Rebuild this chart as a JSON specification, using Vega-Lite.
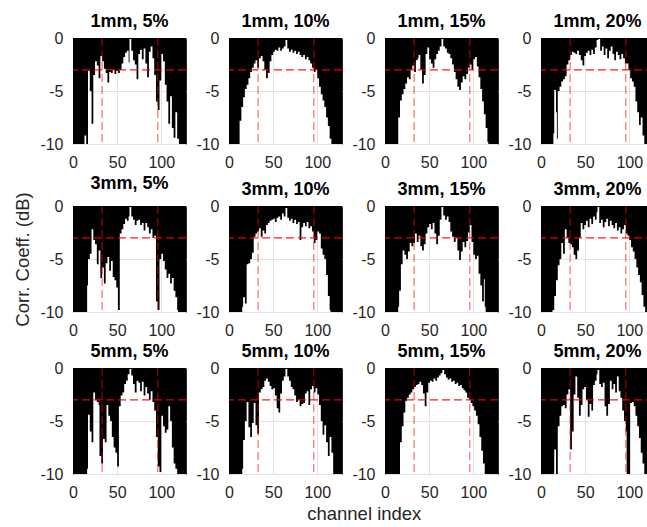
{
"$schema":"https://vega.github.io/schema/vega-lite/v6.json",
"padding":{"left":13,"top":12,"right":0,"bottom":0},
"background":"white",
"title":{"text":"channel index","orient":"bottom","anchor":"middle","fontSize":18.5,"fontWeight":"normal","color":"#262626","offset":4,"dx":30,"frame":"bounds"},
"datasets":{
"vr":[{"x":33},{"x":96}],
"hr":[{"y":-3}],
"d":[
{"p":"1mm, 5%","x":0,"v":-12},{"p":"1mm, 5%","x":13,"v":-9.2},{"p":"1mm, 5%","x":15,"v":-12},{"p":"1mm, 5%","x":17,"v":-3.1},{"p":"1mm, 5%","x":19,"v":-5},{"p":"1mm, 5%","x":21,"v":-8.1},{"p":"1mm, 5%","x":23,"v":-3.5},{"p":"1mm, 5%","x":25,"v":-2.2},{"p":"1mm, 5%","x":27,"v":-2.6},{"p":"1mm, 5%","x":29,"v":-3.8},{"p":"1mm, 5%","x":31,"v":-1.7},{"p":"1mm, 5%","x":33,"v":-2.2},{"p":"1mm, 5%","x":35,"v":-2.9},{"p":"1mm, 5%","x":37,"v":-3.3},{"p":"1mm, 5%","x":39,"v":-4.2},{"p":"1mm, 5%","x":41,"v":-3.2},{"p":"1mm, 5%","x":43,"v":-3.3},{"p":"1mm, 5%","x":45,"v":-3.0},{"p":"1mm, 5%","x":47,"v":-3.4},{"p":"1mm, 5%","x":49,"v":-3.1},{"p":"1mm, 5%","x":51,"v":-3.3},{"p":"1mm, 5%","x":53,"v":-3.0},{"p":"1mm, 5%","x":55,"v":-2.4},{"p":"1mm, 5%","x":57,"v":-1.8},{"p":"1mm, 5%","x":59,"v":-1.4},{"p":"1mm, 5%","x":61,"v":-1.2},{"p":"1mm, 5%","x":63,"v":-2.3},{"p":"1mm, 5%","x":64,"v":-0.1},{"p":"1mm, 5%","x":66,"v":-1.2},{"p":"1mm, 5%","x":68,"v":-2.1},{"p":"1mm, 5%","x":70,"v":-2.5},{"p":"1mm, 5%","x":72,"v":-3.9},{"p":"1mm, 5%","x":74,"v":-1.5},{"p":"1mm, 5%","x":76,"v":-1.1},{"p":"1mm, 5%","x":78,"v":-2.0},{"p":"1mm, 5%","x":80,"v":-1.0},{"p":"1mm, 5%","x":82,"v":-2.4},{"p":"1mm, 5%","x":84,"v":-3.7},{"p":"1mm, 5%","x":86,"v":-1.3},{"p":"1mm, 5%","x":88,"v":-0.8},{"p":"1mm, 5%","x":90,"v":-1.9},{"p":"1mm, 5%","x":92,"v":-3.5},{"p":"1mm, 5%","x":94,"v":-6.0},{"p":"1mm, 5%","x":96,"v":-6.8},{"p":"1mm, 5%","x":98,"v":-4.0},{"p":"1mm, 5%","x":100,"v":-1.5},{"p":"1mm, 5%","x":102,"v":-2.2},{"p":"1mm, 5%","x":104,"v":-4.4},{"p":"1mm, 5%","x":106,"v":-6.0},{"p":"1mm, 5%","x":108,"v":-8.1},{"p":"1mm, 5%","x":110,"v":-5.5},{"p":"1mm, 5%","x":112,"v":-8.5},{"p":"1mm, 5%","x":114,"v":-9.4},{"p":"1mm, 5%","x":116,"v":-7.0},{"p":"1mm, 5%","x":118,"v":-9.5},{"p":"1mm, 5%","x":120,"v":-12},{"p":"1mm, 5%","x":128,"v":-12},
{"p":"1mm, 10%","x":0,"v":-12},{"p":"1mm, 10%","x":12,"v":-7.8},{"p":"1mm, 10%","x":14,"v":-6.5},{"p":"1mm, 10%","x":16,"v":-5.6},{"p":"1mm, 10%","x":18,"v":-4.8},{"p":"1mm, 10%","x":20,"v":-4.4},{"p":"1mm, 10%","x":22,"v":-3.8},{"p":"1mm, 10%","x":24,"v":-3.2},{"p":"1mm, 10%","x":26,"v":-2.8},{"p":"1mm, 10%","x":28,"v":-2.4},{"p":"1mm, 10%","x":30,"v":-2.1},{"p":"1mm, 10%","x":32,"v":-2.8},{"p":"1mm, 10%","x":34,"v":-1.9},{"p":"1mm, 10%","x":36,"v":-1.7},{"p":"1mm, 10%","x":38,"v":-2.2},{"p":"1mm, 10%","x":40,"v":-3.0},{"p":"1mm, 10%","x":42,"v":-3.8},{"p":"1mm, 10%","x":44,"v":-3.3},{"p":"1mm, 10%","x":46,"v":-2.2},{"p":"1mm, 10%","x":48,"v":-1.6},{"p":"1mm, 10%","x":50,"v":-1.3},{"p":"1mm, 10%","x":52,"v":-1.1},{"p":"1mm, 10%","x":54,"v":-1.2},{"p":"1mm, 10%","x":56,"v":-0.9},{"p":"1mm, 10%","x":58,"v":-1.2},{"p":"1mm, 10%","x":60,"v":-1.0},{"p":"1mm, 10%","x":62,"v":-0.8},{"p":"1mm, 10%","x":64,"v":-0.2},{"p":"1mm, 10%","x":66,"v":-1.0},{"p":"1mm, 10%","x":68,"v":-1.3},{"p":"1mm, 10%","x":70,"v":-1.1},{"p":"1mm, 10%","x":72,"v":-1.4},{"p":"1mm, 10%","x":74,"v":-1.2},{"p":"1mm, 10%","x":76,"v":-1.5},{"p":"1mm, 10%","x":78,"v":-1.3},{"p":"1mm, 10%","x":80,"v":-1.6},{"p":"1mm, 10%","x":82,"v":-1.8},{"p":"1mm, 10%","x":84,"v":-1.6},{"p":"1mm, 10%","x":86,"v":-2.0},{"p":"1mm, 10%","x":88,"v":-1.8},{"p":"1mm, 10%","x":90,"v":-2.1},{"p":"1mm, 10%","x":92,"v":-2.4},{"p":"1mm, 10%","x":94,"v":-2.8},{"p":"1mm, 10%","x":96,"v":-3.2},{"p":"1mm, 10%","x":98,"v":-3.0},{"p":"1mm, 10%","x":100,"v":-3.8},{"p":"1mm, 10%","x":102,"v":-4.6},{"p":"1mm, 10%","x":104,"v":-5.3},{"p":"1mm, 10%","x":106,"v":-5.9},{"p":"1mm, 10%","x":108,"v":-6.5},{"p":"1mm, 10%","x":110,"v":-7.5},{"p":"1mm, 10%","x":112,"v":-8.3},{"p":"1mm, 10%","x":114,"v":-9.5},{"p":"1mm, 10%","x":116,"v":-12},{"p":"1mm, 10%","x":128,"v":-12},
{"p":"1mm, 15%","x":0,"v":-12},{"p":"1mm, 15%","x":15,"v":-7.5},{"p":"1mm, 15%","x":17,"v":-5.9},{"p":"1mm, 15%","x":19,"v":-5.3},{"p":"1mm, 15%","x":21,"v":-4.8},{"p":"1mm, 15%","x":23,"v":-4.3},{"p":"1mm, 15%","x":25,"v":-3.7},{"p":"1mm, 15%","x":27,"v":-3.9},{"p":"1mm, 15%","x":29,"v":-3.0},{"p":"1mm, 15%","x":31,"v":-2.6},{"p":"1mm, 15%","x":33,"v":-3.2},{"p":"1mm, 15%","x":35,"v":-2.1},{"p":"1mm, 15%","x":37,"v":-1.9},{"p":"1mm, 15%","x":38,"v":-1.6},{"p":"1mm, 15%","x":40,"v":-3.0},{"p":"1mm, 15%","x":42,"v":-4.3},{"p":"1mm, 15%","x":44,"v":-3.5},{"p":"1mm, 15%","x":46,"v":-1.5},{"p":"1mm, 15%","x":48,"v":-0.9},{"p":"1mm, 15%","x":50,"v":-2.0},{"p":"1mm, 15%","x":52,"v":-2.4},{"p":"1mm, 15%","x":54,"v":-2.8},{"p":"1mm, 15%","x":56,"v":-2.0},{"p":"1mm, 15%","x":58,"v":-1.5},{"p":"1mm, 15%","x":60,"v":-1.2},{"p":"1mm, 15%","x":62,"v":-0.8},{"p":"1mm, 15%","x":64,"v":-0.1},{"p":"1mm, 15%","x":66,"v":-0.8},{"p":"1mm, 15%","x":68,"v":-1.0},{"p":"1mm, 15%","x":70,"v":-1.4},{"p":"1mm, 15%","x":72,"v":-1.5},{"p":"1mm, 15%","x":74,"v":-1.9},{"p":"1mm, 15%","x":76,"v":-2.5},{"p":"1mm, 15%","x":78,"v":-3.2},{"p":"1mm, 15%","x":80,"v":-3.9},{"p":"1mm, 15%","x":82,"v":-4.6},{"p":"1mm, 15%","x":84,"v":-4.9},{"p":"1mm, 15%","x":86,"v":-4.2},{"p":"1mm, 15%","x":88,"v":-3.6},{"p":"1mm, 15%","x":90,"v":-3.9},{"p":"1mm, 15%","x":92,"v":-3.4},{"p":"1mm, 15%","x":94,"v":-2.8},{"p":"1mm, 15%","x":96,"v":-2.5},{"p":"1mm, 15%","x":98,"v":-3.0},{"p":"1mm, 15%","x":100,"v":-2.0},{"p":"1mm, 15%","x":102,"v":-1.8},{"p":"1mm, 15%","x":104,"v":-2.7},{"p":"1mm, 15%","x":106,"v":-3.7},{"p":"1mm, 15%","x":108,"v":-4.8},{"p":"1mm, 15%","x":110,"v":-6.0},{"p":"1mm, 15%","x":112,"v":-7.2},{"p":"1mm, 15%","x":114,"v":-8.5},{"p":"1mm, 15%","x":116,"v":-9.8},{"p":"1mm, 15%","x":117,"v":-12},{"p":"1mm, 15%","x":128,"v":-12},
{"p":"1mm, 20%","x":0,"v":-12},{"p":"1mm, 20%","x":14,"v":-9},{"p":"1mm, 20%","x":15,"v":-4.9},{"p":"1mm, 20%","x":17,"v":-7},{"p":"1mm, 20%","x":18,"v":-9.5},{"p":"1mm, 20%","x":19,"v":-5},{"p":"1mm, 20%","x":21,"v":-4.6},{"p":"1mm, 20%","x":23,"v":-4.1},{"p":"1mm, 20%","x":25,"v":-3.9},{"p":"1mm, 20%","x":27,"v":-3.6},{"p":"1mm, 20%","x":29,"v":-2.5},{"p":"1mm, 20%","x":31,"v":-2.1},{"p":"1mm, 20%","x":33,"v":-1.6},{"p":"1mm, 20%","x":35,"v":-1.3},{"p":"1mm, 20%","x":37,"v":-1.4},{"p":"1mm, 20%","x":39,"v":-1.5},{"p":"1mm, 20%","x":41,"v":-1.2},{"p":"1mm, 20%","x":43,"v":-1.6},{"p":"1mm, 20%","x":45,"v":-2.1},{"p":"1mm, 20%","x":47,"v":-2.6},{"p":"1mm, 20%","x":49,"v":-1.7},{"p":"1mm, 20%","x":51,"v":-1.4},{"p":"1mm, 20%","x":53,"v":-1.2},{"p":"1mm, 20%","x":55,"v":-1.6},{"p":"1mm, 20%","x":57,"v":-1.1},{"p":"1mm, 20%","x":59,"v":-1.5},{"p":"1mm, 20%","x":61,"v":-0.9},{"p":"1mm, 20%","x":63,"v":-0.2},{"p":"1mm, 20%","x":65,"v":-0.1},{"p":"1mm, 20%","x":67,"v":-1.2},{"p":"1mm, 20%","x":69,"v":-0.8},{"p":"1mm, 20%","x":71,"v":-1.6},{"p":"1mm, 20%","x":73,"v":-1.0},{"p":"1mm, 20%","x":75,"v":-1.9},{"p":"1mm, 20%","x":77,"v":-1.2},{"p":"1mm, 20%","x":79,"v":-0.8},{"p":"1mm, 20%","x":81,"v":-1.5},{"p":"1mm, 20%","x":83,"v":-2.1},{"p":"1mm, 20%","x":85,"v":-1.3},{"p":"1mm, 20%","x":87,"v":-1.6},{"p":"1mm, 20%","x":89,"v":-2.0},{"p":"1mm, 20%","x":91,"v":-1.5},{"p":"1mm, 20%","x":93,"v":-1.9},{"p":"1mm, 20%","x":95,"v":-2.4},{"p":"1mm, 20%","x":97,"v":-2.4},{"p":"1mm, 20%","x":99,"v":-3.0},{"p":"1mm, 20%","x":101,"v":-3.8},{"p":"1mm, 20%","x":103,"v":-4.1},{"p":"1mm, 20%","x":105,"v":-4.6},{"p":"1mm, 20%","x":107,"v":-6.0},{"p":"1mm, 20%","x":109,"v":-7.0},{"p":"1mm, 20%","x":111,"v":-8.2},{"p":"1mm, 20%","x":113,"v":-7.5},{"p":"1mm, 20%","x":115,"v":-9.2},{"p":"1mm, 20%","x":117,"v":-12},{"p":"1mm, 20%","x":128,"v":-12},
{"p":"3mm, 5%","x":0,"v":-12},{"p":"3mm, 5%","x":16,"v":-7.5},{"p":"3mm, 5%","x":17,"v":-5.0},{"p":"3mm, 5%","x":19,"v":-4.5},{"p":"3mm, 5%","x":21,"v":-2.2},{"p":"3mm, 5%","x":23,"v":-3.2},{"p":"3mm, 5%","x":25,"v":-3.6},{"p":"3mm, 5%","x":27,"v":-5.5},{"p":"3mm, 5%","x":29,"v":-4.2},{"p":"3mm, 5%","x":31,"v":-6.8},{"p":"3mm, 5%","x":33,"v":-5.8},{"p":"3mm, 5%","x":35,"v":-7.3},{"p":"3mm, 5%","x":37,"v":-5.4},{"p":"3mm, 5%","x":39,"v":-4.8},{"p":"3mm, 5%","x":41,"v":-6.1},{"p":"3mm, 5%","x":43,"v":-5.2},{"p":"3mm, 5%","x":45,"v":-6.7},{"p":"3mm, 5%","x":47,"v":-7.0},{"p":"3mm, 5%","x":49,"v":-7.7},{"p":"3mm, 5%","x":51,"v":-9.8},{"p":"3mm, 5%","x":53,"v":-2.6},{"p":"3mm, 5%","x":55,"v":-2.2},{"p":"3mm, 5%","x":57,"v":-1.7},{"p":"3mm, 5%","x":59,"v":-1.2},{"p":"3mm, 5%","x":61,"v":-1.4},{"p":"3mm, 5%","x":63,"v":-1.0},{"p":"3mm, 5%","x":64,"v":-0.1},{"p":"3mm, 5%","x":66,"v":-1.0},{"p":"3mm, 5%","x":68,"v":-1.3},{"p":"3mm, 5%","x":70,"v":-1.8},{"p":"3mm, 5%","x":72,"v":-1.4},{"p":"3mm, 5%","x":74,"v":-1.3},{"p":"3mm, 5%","x":76,"v":-1.8},{"p":"3mm, 5%","x":78,"v":-1.6},{"p":"3mm, 5%","x":80,"v":-2.3},{"p":"3mm, 5%","x":82,"v":-1.6},{"p":"3mm, 5%","x":84,"v":-2.0},{"p":"3mm, 5%","x":86,"v":-2.6},{"p":"3mm, 5%","x":88,"v":-2.2},{"p":"3mm, 5%","x":90,"v":-3.0},{"p":"3mm, 5%","x":92,"v":-2.8},{"p":"3mm, 5%","x":94,"v":-9.0},{"p":"3mm, 5%","x":96,"v":-9.8},{"p":"3mm, 5%","x":98,"v":-5.0},{"p":"3mm, 5%","x":100,"v":-4.5},{"p":"3mm, 5%","x":102,"v":-5.2},{"p":"3mm, 5%","x":104,"v":-6.0},{"p":"3mm, 5%","x":106,"v":-6.8},{"p":"3mm, 5%","x":108,"v":-6.4},{"p":"3mm, 5%","x":110,"v":-7.3},{"p":"3mm, 5%","x":112,"v":-6.8},{"p":"3mm, 5%","x":114,"v":-8.0},{"p":"3mm, 5%","x":116,"v":-8.6},{"p":"3mm, 5%","x":118,"v":-9.8},{"p":"3mm, 5%","x":119,"v":-12},{"p":"3mm, 5%","x":128,"v":-12},
{"p":"3mm, 10%","x":0,"v":-12},{"p":"3mm, 10%","x":15,"v":-9.5},{"p":"3mm, 10%","x":16,"v":-8.6},{"p":"3mm, 10%","x":18,"v":-9.2},{"p":"3mm, 10%","x":20,"v":-5.5},{"p":"3mm, 10%","x":22,"v":-5.4},{"p":"3mm, 10%","x":24,"v":-5.0},{"p":"3mm, 10%","x":26,"v":-4.4},{"p":"3mm, 10%","x":28,"v":-2.9},{"p":"3mm, 10%","x":30,"v":-2.6},{"p":"3mm, 10%","x":32,"v":-2.4},{"p":"3mm, 10%","x":34,"v":-2.1},{"p":"3mm, 10%","x":36,"v":-2.9},{"p":"3mm, 10%","x":38,"v":-2.3},{"p":"3mm, 10%","x":40,"v":-2.6},{"p":"3mm, 10%","x":42,"v":-1.8},{"p":"3mm, 10%","x":44,"v":-1.6},{"p":"3mm, 10%","x":46,"v":-1.4},{"p":"3mm, 10%","x":48,"v":-1.3},{"p":"3mm, 10%","x":50,"v":-1.2},{"p":"3mm, 10%","x":52,"v":-1.5},{"p":"3mm, 10%","x":54,"v":-1.1},{"p":"3mm, 10%","x":56,"v":-1.0},{"p":"3mm, 10%","x":58,"v":-1.3},{"p":"3mm, 10%","x":60,"v":-0.7},{"p":"3mm, 10%","x":62,"v":-1.0},{"p":"3mm, 10%","x":64,"v":-0.2},{"p":"3mm, 10%","x":66,"v":-1.1},{"p":"3mm, 10%","x":68,"v":-1.4},{"p":"3mm, 10%","x":70,"v":-1.2},{"p":"3mm, 10%","x":72,"v":-1.6},{"p":"3mm, 10%","x":74,"v":-1.3},{"p":"3mm, 10%","x":76,"v":-1.7},{"p":"3mm, 10%","x":78,"v":-1.5},{"p":"3mm, 10%","x":80,"v":-3.2},{"p":"3mm, 10%","x":82,"v":-2.0},{"p":"3mm, 10%","x":84,"v":-1.6},{"p":"3mm, 10%","x":86,"v":-1.9},{"p":"3mm, 10%","x":88,"v":-1.5},{"p":"3mm, 10%","x":90,"v":-2.1},{"p":"3mm, 10%","x":92,"v":-1.9},{"p":"3mm, 10%","x":94,"v":-2.4},{"p":"3mm, 10%","x":96,"v":-3.5},{"p":"3mm, 10%","x":98,"v":-3.2},{"p":"3mm, 10%","x":100,"v":-2.4},{"p":"3mm, 10%","x":102,"v":-2.6},{"p":"3mm, 10%","x":104,"v":-4.0},{"p":"3mm, 10%","x":106,"v":-4.6},{"p":"3mm, 10%","x":108,"v":-5.0},{"p":"3mm, 10%","x":110,"v":-6.5},{"p":"3mm, 10%","x":112,"v":-8.5},{"p":"3mm, 10%","x":114,"v":-9.8},{"p":"3mm, 10%","x":115,"v":-12},{"p":"3mm, 10%","x":128,"v":-12},
{"p":"3mm, 15%","x":0,"v":-12},{"p":"3mm, 15%","x":15,"v":-9.5},{"p":"3mm, 15%","x":16,"v":-8.0},{"p":"3mm, 15%","x":18,"v":-5.5},{"p":"3mm, 15%","x":20,"v":-4.2},{"p":"3mm, 15%","x":22,"v":-4.6},{"p":"3mm, 15%","x":24,"v":-5.0},{"p":"3mm, 15%","x":26,"v":-4.3},{"p":"3mm, 15%","x":28,"v":-3.5},{"p":"3mm, 15%","x":30,"v":-3.8},{"p":"3mm, 15%","x":32,"v":-3.5},{"p":"3mm, 15%","x":34,"v":-2.6},{"p":"3mm, 15%","x":36,"v":-3.4},{"p":"3mm, 15%","x":38,"v":-2.8},{"p":"3mm, 15%","x":40,"v":-3.8},{"p":"3mm, 15%","x":42,"v":-4.2},{"p":"3mm, 15%","x":44,"v":-3.6},{"p":"3mm, 15%","x":46,"v":-2.6},{"p":"3mm, 15%","x":48,"v":-2.0},{"p":"3mm, 15%","x":50,"v":-1.7},{"p":"3mm, 15%","x":52,"v":-2.2},{"p":"3mm, 15%","x":54,"v":-1.6},{"p":"3mm, 15%","x":56,"v":-2.6},{"p":"3mm, 15%","x":58,"v":-3.6},{"p":"3mm, 15%","x":60,"v":-2.8},{"p":"3mm, 15%","x":62,"v":-1.3},{"p":"3mm, 15%","x":64,"v":-0.1},{"p":"3mm, 15%","x":66,"v":-0.9},{"p":"3mm, 15%","x":68,"v":-1.3},{"p":"3mm, 15%","x":70,"v":-1.0},{"p":"3mm, 15%","x":72,"v":-1.5},{"p":"3mm, 15%","x":74,"v":-2.4},{"p":"3mm, 15%","x":76,"v":-2.9},{"p":"3mm, 15%","x":78,"v":-3.4},{"p":"3mm, 15%","x":80,"v":-3.0},{"p":"3mm, 15%","x":82,"v":-4.2},{"p":"3mm, 15%","x":84,"v":-5.1},{"p":"3mm, 15%","x":86,"v":-4.3},{"p":"3mm, 15%","x":88,"v":-3.4},{"p":"3mm, 15%","x":90,"v":-3.9},{"p":"3mm, 15%","x":92,"v":-3.3},{"p":"3mm, 15%","x":94,"v":-2.5},{"p":"3mm, 15%","x":96,"v":-1.8},{"p":"3mm, 15%","x":98,"v":-3.4},{"p":"3mm, 15%","x":100,"v":-4.6},{"p":"3mm, 15%","x":102,"v":-5.0},{"p":"3mm, 15%","x":104,"v":-4.7},{"p":"3mm, 15%","x":106,"v":-6.4},{"p":"3mm, 15%","x":108,"v":-7.5},{"p":"3mm, 15%","x":110,"v":-9.0},{"p":"3mm, 15%","x":112,"v":-6.9},{"p":"3mm, 15%","x":113,"v":-9.5},{"p":"3mm, 15%","x":114,"v":-12},{"p":"3mm, 15%","x":128,"v":-12},
{"p":"3mm, 20%","x":0,"v":-12},{"p":"3mm, 20%","x":13,"v":-9.8},{"p":"3mm, 20%","x":15,"v":-8.5},{"p":"3mm, 20%","x":17,"v":-7.0},{"p":"3mm, 20%","x":19,"v":-5.6},{"p":"3mm, 20%","x":21,"v":-5.0},{"p":"3mm, 20%","x":23,"v":-3.5},{"p":"3mm, 20%","x":25,"v":-4.5},{"p":"3mm, 20%","x":27,"v":-2.2},{"p":"3mm, 20%","x":29,"v":-3.0},{"p":"3mm, 20%","x":31,"v":-3.5},{"p":"3mm, 20%","x":33,"v":-3.6},{"p":"3mm, 20%","x":35,"v":-3.9},{"p":"3mm, 20%","x":37,"v":-4.6},{"p":"3mm, 20%","x":39,"v":-5.0},{"p":"3mm, 20%","x":41,"v":-4.2},{"p":"3mm, 20%","x":43,"v":-3.0},{"p":"3mm, 20%","x":45,"v":-1.6},{"p":"3mm, 20%","x":47,"v":-2.2},{"p":"3mm, 20%","x":49,"v":-1.8},{"p":"3mm, 20%","x":51,"v":-1.4},{"p":"3mm, 20%","x":53,"v":-2.0},{"p":"3mm, 20%","x":55,"v":-1.2},{"p":"3mm, 20%","x":57,"v":-1.7},{"p":"3mm, 20%","x":59,"v":-1.0},{"p":"3mm, 20%","x":61,"v":-1.3},{"p":"3mm, 20%","x":63,"v":-0.6},{"p":"3mm, 20%","x":64,"v":-0.1},{"p":"3mm, 20%","x":66,"v":-1.6},{"p":"3mm, 20%","x":68,"v":-1.3},{"p":"3mm, 20%","x":70,"v":-2.0},{"p":"3mm, 20%","x":72,"v":-1.5},{"p":"3mm, 20%","x":74,"v":-1.2},{"p":"3mm, 20%","x":76,"v":-1.9},{"p":"3mm, 20%","x":78,"v":-1.4},{"p":"3mm, 20%","x":80,"v":-1.8},{"p":"3mm, 20%","x":82,"v":-2.1},{"p":"3mm, 20%","x":84,"v":-1.6},{"p":"3mm, 20%","x":86,"v":-2.3},{"p":"3mm, 20%","x":88,"v":-2.0},{"p":"3mm, 20%","x":90,"v":-2.6},{"p":"3mm, 20%","x":92,"v":-2.2},{"p":"3mm, 20%","x":94,"v":-1.8},{"p":"3mm, 20%","x":96,"v":-2.6},{"p":"3mm, 20%","x":98,"v":-2.8},{"p":"3mm, 20%","x":100,"v":-3.2},{"p":"3mm, 20%","x":102,"v":-3.9},{"p":"3mm, 20%","x":104,"v":-4.3},{"p":"3mm, 20%","x":106,"v":-5.0},{"p":"3mm, 20%","x":108,"v":-5.8},{"p":"3mm, 20%","x":110,"v":-6.5},{"p":"3mm, 20%","x":112,"v":-7.2},{"p":"3mm, 20%","x":114,"v":-8.4},{"p":"3mm, 20%","x":116,"v":-9.5},{"p":"3mm, 20%","x":118,"v":-12},{"p":"3mm, 20%","x":128,"v":-12},
{"p":"5mm, 5%","x":0,"v":-12},{"p":"5mm, 5%","x":16,"v":-9.5},{"p":"5mm, 5%","x":17,"v":-4.4},{"p":"5mm, 5%","x":19,"v":-6.0},{"p":"5mm, 5%","x":21,"v":-7.0},{"p":"5mm, 5%","x":23,"v":-2.3},{"p":"5mm, 5%","x":25,"v":-3.0},{"p":"5mm, 5%","x":27,"v":-3.2},{"p":"5mm, 5%","x":29,"v":-3.5},{"p":"5mm, 5%","x":30,"v":-8.3},{"p":"5mm, 5%","x":32,"v":-9.0},{"p":"5mm, 5%","x":34,"v":-6.7},{"p":"5mm, 5%","x":36,"v":-7.0},{"p":"5mm, 5%","x":38,"v":-3.5},{"p":"5mm, 5%","x":40,"v":-4.5},{"p":"5mm, 5%","x":42,"v":-5.0},{"p":"5mm, 5%","x":44,"v":-6.5},{"p":"5mm, 5%","x":46,"v":-7.5},{"p":"5mm, 5%","x":48,"v":-8.0},{"p":"5mm, 5%","x":50,"v":-9.3},{"p":"5mm, 5%","x":52,"v":-3.6},{"p":"5mm, 5%","x":54,"v":-2.6},{"p":"5mm, 5%","x":56,"v":-2.3},{"p":"5mm, 5%","x":58,"v":-1.5},{"p":"5mm, 5%","x":60,"v":-1.2},{"p":"5mm, 5%","x":62,"v":-0.6},{"p":"5mm, 5%","x":64,"v":-0.1},{"p":"5mm, 5%","x":66,"v":-0.7},{"p":"5mm, 5%","x":68,"v":-1.5},{"p":"5mm, 5%","x":70,"v":-2.3},{"p":"5mm, 5%","x":72,"v":-1.2},{"p":"5mm, 5%","x":74,"v":-1.4},{"p":"5mm, 5%","x":76,"v":-2.2},{"p":"5mm, 5%","x":78,"v":-1.3},{"p":"5mm, 5%","x":80,"v":-2.6},{"p":"5mm, 5%","x":82,"v":-1.8},{"p":"5mm, 5%","x":84,"v":-2.4},{"p":"5mm, 5%","x":86,"v":-3.0},{"p":"5mm, 5%","x":88,"v":-2.2},{"p":"5mm, 5%","x":90,"v":-3.2},{"p":"5mm, 5%","x":92,"v":-4.0},{"p":"5mm, 5%","x":94,"v":-6.5},{"p":"5mm, 5%","x":96,"v":-9.3},{"p":"5mm, 5%","x":98,"v":-9.8},{"p":"5mm, 5%","x":100,"v":-4.5},{"p":"5mm, 5%","x":102,"v":-5.5},{"p":"5mm, 5%","x":104,"v":-6.1},{"p":"5mm, 5%","x":106,"v":-5.8},{"p":"5mm, 5%","x":108,"v":-3.6},{"p":"5mm, 5%","x":110,"v":-5.0},{"p":"5mm, 5%","x":112,"v":-7.5},{"p":"5mm, 5%","x":114,"v":-9.0},{"p":"5mm, 5%","x":116,"v":-9.5},{"p":"5mm, 5%","x":118,"v":-12},{"p":"5mm, 5%","x":128,"v":-12},
{"p":"5mm, 10%","x":0,"v":-12},{"p":"5mm, 10%","x":15,"v":-9.5},{"p":"5mm, 10%","x":16,"v":-6.8},{"p":"5mm, 10%","x":18,"v":-5.0},{"p":"5mm, 10%","x":20,"v":-3.2},{"p":"5mm, 10%","x":22,"v":-5.6},{"p":"5mm, 10%","x":24,"v":-6.5},{"p":"5mm, 10%","x":26,"v":-5.2},{"p":"5mm, 10%","x":28,"v":-3.3},{"p":"5mm, 10%","x":30,"v":-5.4},{"p":"5mm, 10%","x":32,"v":-6.2},{"p":"5mm, 10%","x":34,"v":-2.3},{"p":"5mm, 10%","x":36,"v":-2.0},{"p":"5mm, 10%","x":38,"v":-1.8},{"p":"5mm, 10%","x":40,"v":-1.2},{"p":"5mm, 10%","x":42,"v":-1.0},{"p":"5mm, 10%","x":44,"v":-1.3},{"p":"5mm, 10%","x":46,"v":-1.7},{"p":"5mm, 10%","x":48,"v":-2.0},{"p":"5mm, 10%","x":50,"v":-1.9},{"p":"5mm, 10%","x":52,"v":-2.6},{"p":"5mm, 10%","x":54,"v":-3.8},{"p":"5mm, 10%","x":56,"v":-4.2},{"p":"5mm, 10%","x":58,"v":-2.4},{"p":"5mm, 10%","x":60,"v":-1.2},{"p":"5mm, 10%","x":62,"v":-0.8},{"p":"5mm, 10%","x":64,"v":-0.1},{"p":"5mm, 10%","x":66,"v":-0.8},{"p":"5mm, 10%","x":68,"v":-1.2},{"p":"5mm, 10%","x":70,"v":-1.8},{"p":"5mm, 10%","x":72,"v":-2.0},{"p":"5mm, 10%","x":74,"v":-2.6},{"p":"5mm, 10%","x":76,"v":-3.2},{"p":"5mm, 10%","x":78,"v":-3.0},{"p":"5mm, 10%","x":80,"v":-3.6},{"p":"5mm, 10%","x":82,"v":-3.4},{"p":"5mm, 10%","x":84,"v":-3.3},{"p":"5mm, 10%","x":86,"v":-2.4},{"p":"5mm, 10%","x":88,"v":-2.2},{"p":"5mm, 10%","x":90,"v":-3.5},{"p":"5mm, 10%","x":92,"v":-2.0},{"p":"5mm, 10%","x":94,"v":-1.7},{"p":"5mm, 10%","x":96,"v":-2.3},{"p":"5mm, 10%","x":98,"v":-1.9},{"p":"5mm, 10%","x":100,"v":-2.5},{"p":"5mm, 10%","x":102,"v":-3.5},{"p":"5mm, 10%","x":104,"v":-5.0},{"p":"5mm, 10%","x":106,"v":-6.3},{"p":"5mm, 10%","x":108,"v":-5.4},{"p":"5mm, 10%","x":110,"v":-7.0},{"p":"5mm, 10%","x":112,"v":-8.3},{"p":"5mm, 10%","x":114,"v":-6.5},{"p":"5mm, 10%","x":116,"v":-8.0},{"p":"5mm, 10%","x":118,"v":-12},{"p":"5mm, 10%","x":128,"v":-12},
{"p":"5mm, 15%","x":0,"v":-12},{"p":"5mm, 15%","x":17,"v":-7.0},{"p":"5mm, 15%","x":19,"v":-5.5},{"p":"5mm, 15%","x":21,"v":-4.2},{"p":"5mm, 15%","x":23,"v":-3.1},{"p":"5mm, 15%","x":25,"v":-2.8},{"p":"5mm, 15%","x":27,"v":-2.5},{"p":"5mm, 15%","x":29,"v":-2.3},{"p":"5mm, 15%","x":31,"v":-2.0},{"p":"5mm, 15%","x":33,"v":-1.8},{"p":"5mm, 15%","x":35,"v":-1.6},{"p":"5mm, 15%","x":37,"v":-1.5},{"p":"5mm, 15%","x":39,"v":-1.3},{"p":"5mm, 15%","x":41,"v":-1.6},{"p":"5mm, 15%","x":43,"v":-2.4},{"p":"5mm, 15%","x":45,"v":-3.6},{"p":"5mm, 15%","x":47,"v":-2.3},{"p":"5mm, 15%","x":49,"v":-1.4},{"p":"5mm, 15%","x":51,"v":-1.2},{"p":"5mm, 15%","x":53,"v":-1.3},{"p":"5mm, 15%","x":55,"v":-1.0},{"p":"5mm, 15%","x":57,"v":-1.2},{"p":"5mm, 15%","x":59,"v":-0.9},{"p":"5mm, 15%","x":61,"v":-0.7},{"p":"5mm, 15%","x":63,"v":-0.5},{"p":"5mm, 15%","x":65,"v":-0.2},{"p":"5mm, 15%","x":67,"v":-0.6},{"p":"5mm, 15%","x":69,"v":-0.9},{"p":"5mm, 15%","x":71,"v":-1.1},{"p":"5mm, 15%","x":73,"v":-1.0},{"p":"5mm, 15%","x":75,"v":-1.3},{"p":"5mm, 15%","x":77,"v":-1.2},{"p":"5mm, 15%","x":79,"v":-1.5},{"p":"5mm, 15%","x":81,"v":-1.4},{"p":"5mm, 15%","x":83,"v":-1.7},{"p":"5mm, 15%","x":85,"v":-1.6},{"p":"5mm, 15%","x":87,"v":-1.9},{"p":"5mm, 15%","x":89,"v":-2.1},{"p":"5mm, 15%","x":91,"v":-2.3},{"p":"5mm, 15%","x":93,"v":-2.8},{"p":"5mm, 15%","x":95,"v":-3.0},{"p":"5mm, 15%","x":97,"v":-3.3},{"p":"5mm, 15%","x":99,"v":-3.6},{"p":"5mm, 15%","x":101,"v":-4.0},{"p":"5mm, 15%","x":103,"v":-4.5},{"p":"5mm, 15%","x":105,"v":-5.3},{"p":"5mm, 15%","x":107,"v":-6.5},{"p":"5mm, 15%","x":109,"v":-7.8},{"p":"5mm, 15%","x":111,"v":-9.0},{"p":"5mm, 15%","x":113,"v":-12},{"p":"5mm, 15%","x":128,"v":-12},
{"p":"5mm, 20%","x":0,"v":-12},{"p":"5mm, 20%","x":15,"v":-7.7},{"p":"5mm, 20%","x":17,"v":-12},{"p":"5mm, 20%","x":19,"v":-5.5},{"p":"5mm, 20%","x":21,"v":-4.5},{"p":"5mm, 20%","x":23,"v":-3.6},{"p":"5mm, 20%","x":25,"v":-3.5},{"p":"5mm, 20%","x":27,"v":-3.8},{"p":"5mm, 20%","x":29,"v":-2.5},{"p":"5mm, 20%","x":31,"v":-2.0},{"p":"5mm, 20%","x":33,"v":-7.7},{"p":"5mm, 20%","x":35,"v":-6.0},{"p":"5mm, 20%","x":37,"v":-2.5},{"p":"5mm, 20%","x":39,"v":-0.8},{"p":"5mm, 20%","x":41,"v":-2.8},{"p":"5mm, 20%","x":43,"v":-4.5},{"p":"5mm, 20%","x":45,"v":-3.5},{"p":"5mm, 20%","x":47,"v":-2.0},{"p":"5mm, 20%","x":49,"v":-1.8},{"p":"5mm, 20%","x":51,"v":-3.0},{"p":"5mm, 20%","x":53,"v":-4.6},{"p":"5mm, 20%","x":55,"v":-3.4},{"p":"5mm, 20%","x":57,"v":-4.0},{"p":"5mm, 20%","x":59,"v":-1.6},{"p":"5mm, 20%","x":61,"v":-1.2},{"p":"5mm, 20%","x":63,"v":-0.6},{"p":"5mm, 20%","x":64,"v":-0.2},{"p":"5mm, 20%","x":66,"v":-1.5},{"p":"5mm, 20%","x":68,"v":-1.8},{"p":"5mm, 20%","x":70,"v":-1.4},{"p":"5mm, 20%","x":72,"v":-3.6},{"p":"5mm, 20%","x":74,"v":-4.5},{"p":"5mm, 20%","x":76,"v":-3.4},{"p":"5mm, 20%","x":78,"v":-1.2},{"p":"5mm, 20%","x":80,"v":-2.0},{"p":"5mm, 20%","x":82,"v":-1.5},{"p":"5mm, 20%","x":84,"v":-2.3},{"p":"5mm, 20%","x":86,"v":-0.8},{"p":"5mm, 20%","x":88,"v":-2.2},{"p":"5mm, 20%","x":90,"v":-2.8},{"p":"5mm, 20%","x":92,"v":-4.0},{"p":"5mm, 20%","x":94,"v":-5.0},{"p":"5mm, 20%","x":96,"v":-6.0},{"p":"5mm, 20%","x":97,"v":-12},{"p":"5mm, 20%","x":101,"v":-3.3},{"p":"5mm, 20%","x":103,"v":-3.2},{"p":"5mm, 20%","x":105,"v":-3.6},{"p":"5mm, 20%","x":107,"v":-4.5},{"p":"5mm, 20%","x":109,"v":-5.5},{"p":"5mm, 20%","x":111,"v":-6.6},{"p":"5mm, 20%","x":113,"v":-8.0},{"p":"5mm, 20%","x":115,"v":-9.0},{"p":"5mm, 20%","x":117,"v":-12},{"p":"5mm, 20%","x":128,"v":-12}
]},
"columns":4,
"spacing":{"row":3,"column":7},
"concat":[
{"title":"1mm, 5%","width":113,"height":106,"layer":[{"data":{"name":"d"},"transform":[{"filter":"datum.p=='1mm, 5%'"}],"mark":{"type":"area","interpolate":"step-after","color":"#000","opacity":1,"clip":true},"encoding":{"x":{"field":"x","type":"quantitative","scale":{"domain":[0,128],"nice":false},"title":null},"y":{"field":"v","type":"quantitative","scale":{"domain":[-10,0],"nice":false},"title":null},"y2":{"datum":0}}},{"data":{"name":"vr"},"mark":{"type":"rule","color":"#ff0000","strokeDash":[8,4],"strokeWidth":1.3,"opacity":0.55},"encoding":{"x":{"field":"x","type":"quantitative","title":null}}},{"data":{"name":"hr"},"mark":{"type":"rule","color":"#ff0000","strokeDash":[8,4],"strokeWidth":1.3,"opacity":0.9},"encoding":{"y":{"field":"y","type":"quantitative","title":null}}}]},
{"title":"1mm, 10%","width":113,"height":106,"layer":[{"data":{"name":"d"},"transform":[{"filter":"datum.p=='1mm, 10%'"}],"mark":{"type":"area","interpolate":"step-after","color":"#000","opacity":1,"clip":true},"encoding":{"x":{"field":"x","type":"quantitative","scale":{"domain":[0,128],"nice":false},"title":null},"y":{"field":"v","type":"quantitative","scale":{"domain":[-10,0],"nice":false},"title":null},"y2":{"datum":0}}},{"data":{"name":"vr"},"mark":{"type":"rule","color":"#ff0000","strokeDash":[8,4],"strokeWidth":1.3,"opacity":0.55},"encoding":{"x":{"field":"x","type":"quantitative","title":null}}},{"data":{"name":"hr"},"mark":{"type":"rule","color":"#ff0000","strokeDash":[8,4],"strokeWidth":1.3,"opacity":0.9},"encoding":{"y":{"field":"y","type":"quantitative","title":null}}}]},
{"title":"1mm, 15%","width":113,"height":106,"layer":[{"data":{"name":"d"},"transform":[{"filter":"datum.p=='1mm, 15%'"}],"mark":{"type":"area","interpolate":"step-after","color":"#000","opacity":1,"clip":true},"encoding":{"x":{"field":"x","type":"quantitative","scale":{"domain":[0,128],"nice":false},"title":null},"y":{"field":"v","type":"quantitative","scale":{"domain":[-10,0],"nice":false},"title":null},"y2":{"datum":0}}},{"data":{"name":"vr"},"mark":{"type":"rule","color":"#ff0000","strokeDash":[8,4],"strokeWidth":1.3,"opacity":0.55},"encoding":{"x":{"field":"x","type":"quantitative","title":null}}},{"data":{"name":"hr"},"mark":{"type":"rule","color":"#ff0000","strokeDash":[8,4],"strokeWidth":1.3,"opacity":0.9},"encoding":{"y":{"field":"y","type":"quantitative","title":null}}}]},
{"title":"1mm, 20%","width":113,"height":106,"layer":[{"data":{"name":"d"},"transform":[{"filter":"datum.p=='1mm, 20%'"}],"mark":{"type":"area","interpolate":"step-after","color":"#000","opacity":1,"clip":true},"encoding":{"x":{"field":"x","type":"quantitative","scale":{"domain":[0,128],"nice":false},"title":null},"y":{"field":"v","type":"quantitative","scale":{"domain":[-10,0],"nice":false},"title":null},"y2":{"datum":0}}},{"data":{"name":"vr"},"mark":{"type":"rule","color":"#ff0000","strokeDash":[8,4],"strokeWidth":1.3,"opacity":0.55},"encoding":{"x":{"field":"x","type":"quantitative","title":null}}},{"data":{"name":"hr"},"mark":{"type":"rule","color":"#ff0000","strokeDash":[8,4],"strokeWidth":1.3,"opacity":0.9},"encoding":{"y":{"field":"y","type":"quantitative","title":null}}}]},
{"title":"3mm, 5%","width":113,"height":106,"layer":[{"data":{"name":"d"},"transform":[{"filter":"datum.p=='3mm, 5%'"}],"mark":{"type":"area","interpolate":"step-after","color":"#000","opacity":1,"clip":true},"encoding":{"x":{"field":"x","type":"quantitative","scale":{"domain":[0,128],"nice":false},"title":null},"y":{"field":"v","type":"quantitative","scale":{"domain":[-10,0],"nice":false},"title":"Corr. Coeff. (dB)"},"y2":{"datum":0}}},{"data":{"name":"vr"},"mark":{"type":"rule","color":"#ff0000","strokeDash":[8,4],"strokeWidth":1.3,"opacity":0.55},"encoding":{"x":{"field":"x","type":"quantitative","title":null}}},{"data":{"name":"hr"},"mark":{"type":"rule","color":"#ff0000","strokeDash":[8,4],"strokeWidth":1.3,"opacity":0.9},"encoding":{"y":{"field":"y","type":"quantitative","title":"Corr. Coeff. (dB)"}}}]},
{"title":"3mm, 10%","width":113,"height":106,"layer":[{"data":{"name":"d"},"transform":[{"filter":"datum.p=='3mm, 10%'"}],"mark":{"type":"area","interpolate":"step-after","color":"#000","opacity":1,"clip":true},"encoding":{"x":{"field":"x","type":"quantitative","scale":{"domain":[0,128],"nice":false},"title":null},"y":{"field":"v","type":"quantitative","scale":{"domain":[-10,0],"nice":false},"title":null},"y2":{"datum":0}}},{"data":{"name":"vr"},"mark":{"type":"rule","color":"#ff0000","strokeDash":[8,4],"strokeWidth":1.3,"opacity":0.55},"encoding":{"x":{"field":"x","type":"quantitative","title":null}}},{"data":{"name":"hr"},"mark":{"type":"rule","color":"#ff0000","strokeDash":[8,4],"strokeWidth":1.3,"opacity":0.9},"encoding":{"y":{"field":"y","type":"quantitative","title":null}}}]},
{"title":"3mm, 15%","width":113,"height":106,"layer":[{"data":{"name":"d"},"transform":[{"filter":"datum.p=='3mm, 15%'"}],"mark":{"type":"area","interpolate":"step-after","color":"#000","opacity":1,"clip":true},"encoding":{"x":{"field":"x","type":"quantitative","scale":{"domain":[0,128],"nice":false},"title":null},"y":{"field":"v","type":"quantitative","scale":{"domain":[-10,0],"nice":false},"title":null},"y2":{"datum":0}}},{"data":{"name":"vr"},"mark":{"type":"rule","color":"#ff0000","strokeDash":[8,4],"strokeWidth":1.3,"opacity":0.55},"encoding":{"x":{"field":"x","type":"quantitative","title":null}}},{"data":{"name":"hr"},"mark":{"type":"rule","color":"#ff0000","strokeDash":[8,4],"strokeWidth":1.3,"opacity":0.9},"encoding":{"y":{"field":"y","type":"quantitative","title":null}}}]},
{"title":"3mm, 20%","width":113,"height":106,"layer":[{"data":{"name":"d"},"transform":[{"filter":"datum.p=='3mm, 20%'"}],"mark":{"type":"area","interpolate":"step-after","color":"#000","opacity":1,"clip":true},"encoding":{"x":{"field":"x","type":"quantitative","scale":{"domain":[0,128],"nice":false},"title":null},"y":{"field":"v","type":"quantitative","scale":{"domain":[-10,0],"nice":false},"title":null},"y2":{"datum":0}}},{"data":{"name":"vr"},"mark":{"type":"rule","color":"#ff0000","strokeDash":[8,4],"strokeWidth":1.3,"opacity":0.55},"encoding":{"x":{"field":"x","type":"quantitative","title":null}}},{"data":{"name":"hr"},"mark":{"type":"rule","color":"#ff0000","strokeDash":[8,4],"strokeWidth":1.3,"opacity":0.9},"encoding":{"y":{"field":"y","type":"quantitative","title":null}}}]},
{"title":"5mm, 5%","width":113,"height":106,"layer":[{"data":{"name":"d"},"transform":[{"filter":"datum.p=='5mm, 5%'"}],"mark":{"type":"area","interpolate":"step-after","color":"#000","opacity":1,"clip":true},"encoding":{"x":{"field":"x","type":"quantitative","scale":{"domain":[0,128],"nice":false},"title":null},"y":{"field":"v","type":"quantitative","scale":{"domain":[-10,0],"nice":false},"title":null},"y2":{"datum":0}}},{"data":{"name":"vr"},"mark":{"type":"rule","color":"#ff0000","strokeDash":[8,4],"strokeWidth":1.3,"opacity":0.55},"encoding":{"x":{"field":"x","type":"quantitative","title":null}}},{"data":{"name":"hr"},"mark":{"type":"rule","color":"#ff0000","strokeDash":[8,4],"strokeWidth":1.3,"opacity":0.9},"encoding":{"y":{"field":"y","type":"quantitative","title":null}}}]},
{"title":"5mm, 10%","width":113,"height":106,"layer":[{"data":{"name":"d"},"transform":[{"filter":"datum.p=='5mm, 10%'"}],"mark":{"type":"area","interpolate":"step-after","color":"#000","opacity":1,"clip":true},"encoding":{"x":{"field":"x","type":"quantitative","scale":{"domain":[0,128],"nice":false},"title":null},"y":{"field":"v","type":"quantitative","scale":{"domain":[-10,0],"nice":false},"title":null},"y2":{"datum":0}}},{"data":{"name":"vr"},"mark":{"type":"rule","color":"#ff0000","strokeDash":[8,4],"strokeWidth":1.3,"opacity":0.55},"encoding":{"x":{"field":"x","type":"quantitative","title":null}}},{"data":{"name":"hr"},"mark":{"type":"rule","color":"#ff0000","strokeDash":[8,4],"strokeWidth":1.3,"opacity":0.9},"encoding":{"y":{"field":"y","type":"quantitative","title":null}}}]},
{"title":"5mm, 15%","width":113,"height":106,"layer":[{"data":{"name":"d"},"transform":[{"filter":"datum.p=='5mm, 15%'"}],"mark":{"type":"area","interpolate":"step-after","color":"#000","opacity":1,"clip":true},"encoding":{"x":{"field":"x","type":"quantitative","scale":{"domain":[0,128],"nice":false},"title":null},"y":{"field":"v","type":"quantitative","scale":{"domain":[-10,0],"nice":false},"title":null},"y2":{"datum":0}}},{"data":{"name":"vr"},"mark":{"type":"rule","color":"#ff0000","strokeDash":[8,4],"strokeWidth":1.3,"opacity":0.55},"encoding":{"x":{"field":"x","type":"quantitative","title":null}}},{"data":{"name":"hr"},"mark":{"type":"rule","color":"#ff0000","strokeDash":[8,4],"strokeWidth":1.3,"opacity":0.9},"encoding":{"y":{"field":"y","type":"quantitative","title":null}}}]},
{"title":"5mm, 20%","width":113,"height":106,"layer":[{"data":{"name":"d"},"transform":[{"filter":"datum.p=='5mm, 20%'"}],"mark":{"type":"area","interpolate":"step-after","color":"#000","opacity":1,"clip":true},"encoding":{"x":{"field":"x","type":"quantitative","scale":{"domain":[0,128],"nice":false},"title":null},"y":{"field":"v","type":"quantitative","scale":{"domain":[-10,0],"nice":false},"title":null},"y2":{"datum":0}}},{"data":{"name":"vr"},"mark":{"type":"rule","color":"#ff0000","strokeDash":[8,4],"strokeWidth":1.3,"opacity":0.55},"encoding":{"x":{"field":"x","type":"quantitative","title":null}}},{"data":{"name":"hr"},"mark":{"type":"rule","color":"#ff0000","strokeDash":[8,4],"strokeWidth":1.3,"opacity":0.9},"encoding":{"y":{"field":"y","type":"quantitative","title":null}}}]}
],
"config":{
"font":"Liberation Sans",
"view":{"stroke":"#262626","strokeWidth":1},
"axis":{"grid":true,"gridColor":"#e2e2e2","gridWidth":1,"ticks":false,"domain":false,"labelFont":"Liberation Sans","labelFontSize":16,"labelColor":"#262626","labelPadding":10,"labelFlush":false,"labelOverlap":false,"titleFont":"Liberation Sans","titleFontSize":18.5,"titleFontWeight":"normal","titleColor":"#262626","titlePadding":7},
"axisX":{"values":[0,50,100],"labelExpr":"''+datum.value","labelPadding":10},
"axisY":{"values":[0,-5,-10],"labelExpr":"''+datum.value"},
"title":{"font":"Liberation Sans","fontSize":18,"fontWeight":"bold","color":"#000000","frame":"group","anchor":"middle","offset":-1}
}
}
